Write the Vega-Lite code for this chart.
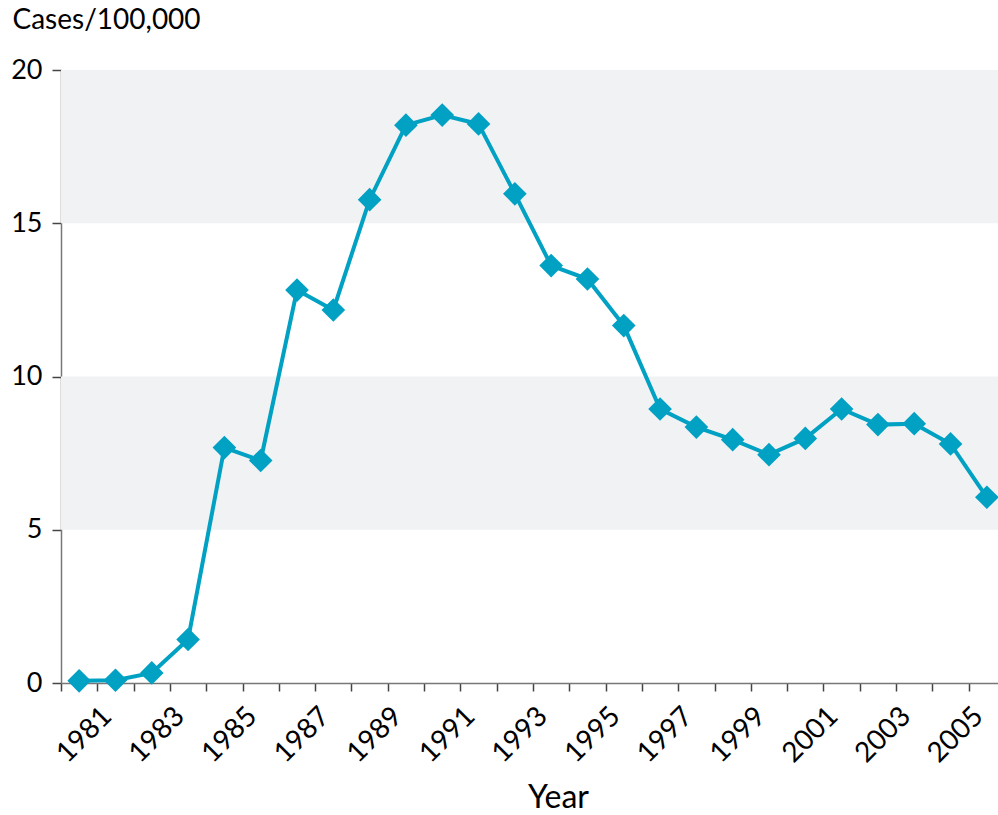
{
  "$schema": "https://vega.github.io/schema/vega-lite/v6.json",
  "autosize": "none",
  "width": 937,
  "height": 613,
  "padding": {"left": 61, "top": 70, "right": 0, "bottom": 132},
  "background": "white",
  "config": {
    "view": {"stroke": null},
    "font": "Lato",
    "axis": {"labelFont": "Lato", "titleFont": "Lato", "grid": false}
  },
  "datasets": {
    "series": [
      {"Year": 1981, "Rate": 0.07},
      {"Year": 1982, "Rate": 0.09},
      {"Year": 1983, "Rate": 0.33},
      {"Year": 1984, "Rate": 1.42},
      {"Year": 1985, "Rate": 7.68},
      {"Year": 1986, "Rate": 7.26},
      {"Year": 1987, "Rate": 12.82},
      {"Year": 1988, "Rate": 12.17},
      {"Year": 1989, "Rate": 15.77},
      {"Year": 1990, "Rate": 18.2},
      {"Year": 1991, "Rate": 18.53},
      {"Year": 1992, "Rate": 18.24},
      {"Year": 1993, "Rate": 15.96},
      {"Year": 1994, "Rate": 13.62},
      {"Year": 1995, "Rate": 13.18},
      {"Year": 1996, "Rate": 11.66},
      {"Year": 1997, "Rate": 8.94},
      {"Year": 1998, "Rate": 8.35},
      {"Year": 1999, "Rate": 7.94},
      {"Year": 2000, "Rate": 7.45},
      {"Year": 2001, "Rate": 7.98},
      {"Year": 2002, "Rate": 8.94},
      {"Year": 2003, "Rate": 8.43},
      {"Year": 2004, "Rate": 8.46},
      {"Year": 2005, "Rate": 7.8},
      {"Year": 2006, "Rate": 6.06}
    ],
    "bands": [
      {"lo": 5, "hi": 10},
      {"lo": 15, "hi": 20}
    ]
  },
  "layer": [
    {
      "data": {"name": "bands"},
      "mark": {"type": "rect", "color": "#f1f2f4"},
      "encoding": {
        "y": {"field": "lo", "type": "quantitative", "scale": {"domain": [0, 20], "nice": false},
          "axis": {
            "title": "Cases/100,000",
            "titleAngle": 0,
            "titleFontSize": 28,
            "titleFontWeight": "normal",
            "titleColor": "#000",
            "titleAlign": "left",
            "titleAnchor": "start",
            "titleBaseline": "alphabetic",
            "titleX": -49,
            "titleY": -42,
            "values": [0, 5, 10, 15, 20],
            "labelFontSize": 27,
            "labelColor": "#000",
            "labelPadding": 10,
            "tickSize": 9,
            "tickColor": "#444",
            "tickWidth": 1.5,
            "domainColor": "#777",
            "domainWidth": 1.5
          }},
        "y2": {"field": "hi"}
      }
    },
    {
      "data": {"name": "series"},
      "encoding": {
        "x": {
          "field": "Year", "type": "quantitative",
          "scale": {"domain": [1980.5, 2006.5], "range": [0, 944], "nice": false, "zero": false},
          "axis": {
            "title": "Year",
            "titleFontSize": 32,
            "titleFontWeight": "normal",
            "titleColor": "#000",
            "titleX": 497,
            "titleY": 124,
            "titleAnchor": "start",
            "titleAlign": "center",
            "titleBaseline": "alphabetic",
            "values": [1980.5, 1981.5, 1982.5, 1983.5, 1984.5, 1985.5, 1986.5, 1987.5, 1988.5, 1989.5, 1990.5, 1991.5, 1992.5, 1993.5, 1994.5, 1995.5, 1996.5, 1997.5, 1998.5, 1999.5, 2000.5, 2001.5, 2002.5, 2003.5, 2004.5, 2005.5],
            "labelExpr": "floor(datum.value) % 2 == 1 ? toString(floor(datum.value)) : ''",
            "labelAngle": -45,
            "labelAlign": "right",
            "labelBaseline": "top",
            "labelFontSize": 28,
            "labelColor": "#000",
            "labelPadding": 11,
            "labelOverlap": false,
            "labelFlush": false,
            "tickSize": 8,
            "tickColor": "#444",
            "tickWidth": 1.5,
            "domainColor": "#777",
            "domainWidth": 1.5
          }
        },
        "y": {
          "field": "Rate", "type": "quantitative",
          "scale": {"domain": [0, 20], "nice": false},
          "axis": {
            "title": "Cases/100,000",
            "titleAngle": 0,
            "titleFontSize": 28,
            "titleFontWeight": "normal",
            "titleColor": "#000",
            "titleAlign": "left",
            "titleAnchor": "start",
            "titleBaseline": "alphabetic",
            "titleX": -49,
            "titleY": -42,
            "values": [0, 5, 10, 15, 20],
            "labelFontSize": 27,
            "labelColor": "#000",
            "labelPadding": 10,
            "tickSize": 9,
            "tickColor": "#444",
            "tickWidth": 1.5,
            "domainColor": "#777",
            "domainWidth": 1.5
          }
        }
      },
      "layer": [
        {"mark": {"type": "line", "color": "#00a1c3", "strokeWidth": 4}},
        {"mark": {"type": "point", "shape": "diamond", "filled": true, "opacity": 1, "color": "#00a1c3", "size": 560}}
      ]
    }
  ]
}
